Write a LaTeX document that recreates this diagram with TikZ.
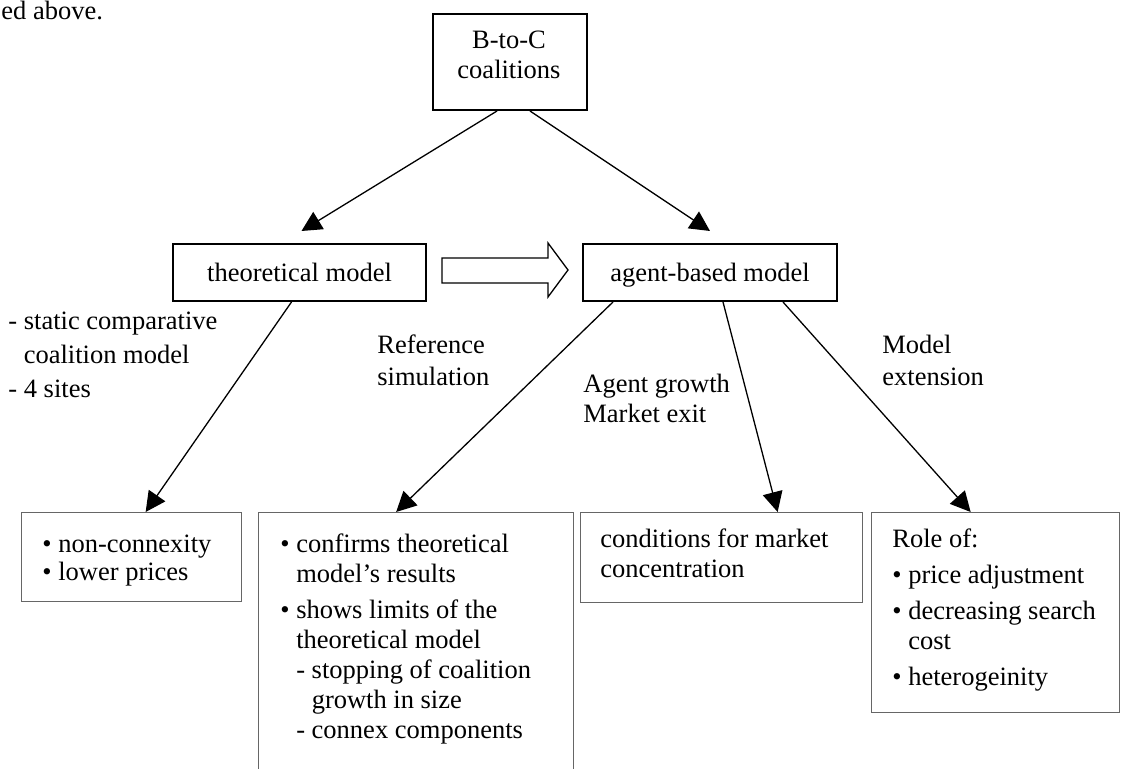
\documentclass[tikz,border=0pt]{standalone}
\usepackage{fontspec}
\setmainfont{Liberation Serif}
\usetikzlibrary{arrows.meta}

\newcommand\fl{\rule{0pt}{10pt}}
\newcommand\hang{\phantom{-\ }}
\newcommand\bhang{\phantom{\textbullet\ }}

\tikzset{
  mainbox/.style={draw, line width=1pt, inner sep=0pt, text depth=0pt},
  resbox/.style={draw=black!60, line width=0.65pt, inner sep=0pt, anchor=north west},
  lbl/.style={inner sep=0pt, anchor=north west, align=left},
  conn/.style={line width=0.65pt, -{Triangle[length=10pt,width=10pt]}},
}

\begin{document}
\begin{tikzpicture}[x=0.5pt, y=-0.5pt, font=\fontsize{13.25}{15}\selectfont]
\useasboundingbox (0,0) rectangle (1121,769);
\clip (0,0) rectangle (1121,769);
\fill[white] (0,0) rectangle (1121,769);

% tail of the text above
\node[lbl] (prev) at (1,-1) {\fl ed above.};

% top and the two models
\node[mainbox, minimum width=77pt, minimum height=48pt, anchor=north west] (btoc) at (432,13) {};
\node[lbl, align=center, anchor=north] (btoctxt) at (509,28) {\fl B-to-C\\coalitions};
\node[mainbox, minimum width=126.5pt, minimum height=28.5pt] (theo) at (299.5,272.5) {theoretical model};
\node[mainbox, minimum width=127pt, minimum height=28.5pt] (abm) at (710,272.5) {agent-based model};
\draw[line width=0.65pt, fill=white] (442,258) -- (548,258) -- (548,243) -- (568,270)
  -- (548,297) -- (548,283) -- (442,283) -- cycle;

% results
\node[resbox, minimum width=110pt, minimum height=44.5pt] (nonconn) at (21,512) {};
\node[resbox, minimum width=157.5pt, minimum height=150pt] (confirm) at (258,512) {};
\node[resbox, minimum width=141pt, minimum height=45pt] (concent) at (580,512) {};
\node[resbox, minimum width=124pt, minimum height=100pt] (role) at (871,512) {};

\node[lbl] (nonconntxt) at (42,532) {\fl\textbullet\ non-connexity\\[-1pt]\textbullet\ lower prices};
\node[lbl] (confirmtxt) at (280,532) {\fl\textbullet\ confirms theoretical\\
  \bhang model's results\\[3pt]
  \textbullet\ shows limits of the\\
  \bhang theoretical model\\
  \bhang -\ stopping of coalition\\
  \bhang\hang growth in size\\
  \bhang -\ connex components};
\node[lbl] (concenttxt) at (600,527) {\fl conditions for market\\concentration};
\node[lbl] (roletxt) at (892,527) {\fl Role of:\\[3pt]
  \textbullet\ price adjustment\\[3pt]
  \textbullet\ decreasing search\\
  \bhang cost\\[3pt]
  \textbullet\ heterogeinity};

% labels
\node[lbl] (static) at (8,309) {\fl -\ static comparative\\[2pt]\hang coalition model\\[2pt]-\ 4 sites};
\node[lbl] (refsim) at (377,333) {\fl Reference\\[1pt]simulation};
\node[lbl] (growth) at (583,372) {\fl Agent growth\\Market exit};
\node[lbl] (ext) at (882,333) {\fl Model\\[1pt]extension};

% arrows
\draw[conn] ([xshift=-6.5pt]btoc.south) -- ([xshift=1pt,yshift=6pt]theo.north);
\draw[conn] ([xshift=10pt]btoc.south) -- ([yshift=6pt]abm.north);
\draw[conn] ([xshift=-4pt]theo.south) -- ([xshift=7pt]nonconn.north);
\draw[conn] ([xshift=-48.5pt]abm.south) -- ([xshift=-10pt]confirm.north);
\draw[conn] ([xshift=6.5pt]abm.south) -- ([xshift=28pt]concent.north);
\draw[conn] ([xshift=36.5pt]abm.south) -- ([xshift=-12.5pt]role.north);
\end{tikzpicture}
\end{document}
